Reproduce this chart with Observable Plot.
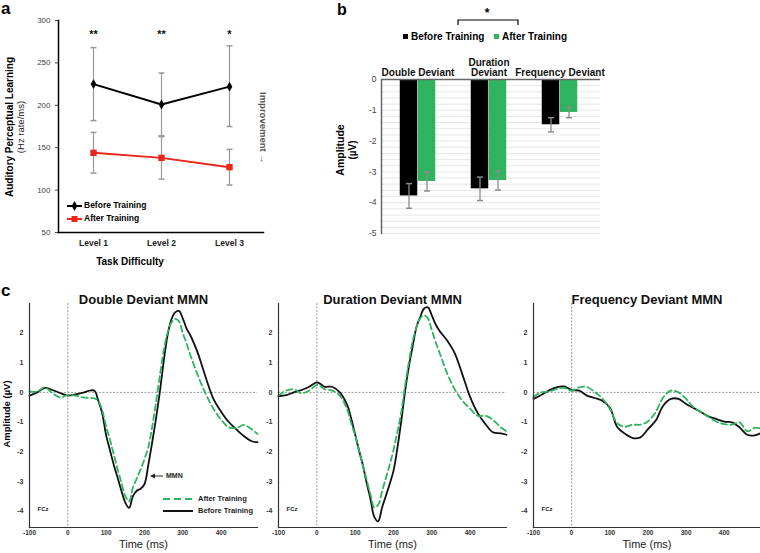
<!DOCTYPE html>
<html><head><meta charset="utf-8">
<script src="https://cdn.jsdelivr.net/npm/d3@7"></script>
<script src="https://cdn.jsdelivr.net/npm/@observablehq/plot@0.6"></script>
<style>
body{margin:0;background:#fff;}
#fig{position:relative;width:760px;height:553px;overflow:hidden;font-family:"Liberation Sans",Arial,sans-serif;}
#fig svg{position:absolute;}
</style></head><body><div id="fig"></div>
<script>
// ---------- Panel a data ----------
const levels = ["Level 1", "Level 2", "Level 3"];
const beforeMean = [225, 201, 222];
const beforeLow = [182, 164, 175];
const beforeHigh = [268, 238, 270];
const afterMean = [144, 138, 127];
const afterLow = [120, 113, 106];
const afterHigh = [168, 163, 148];
const sigStars = ["**", "**", "*"];
const learningTicks = [50, 100, 150, 200, 250, 300];

// ---------- Panel b data ----------
const deviants = ["Double Deviant", "Duration Deviant", "Frequency Deviant"];
const deviantLabels = ["Double Deviant", "Duration\nDeviant", "Frequency Deviant"];
const ampBefore = [-3.78, -3.55, -1.47];
const ampBeforeErr = [0.40, 0.38, 0.23];
const ampAfter = [-3.31, -3.28, -1.07];
const ampAfterErr = [0.31, 0.31, 0.17];
const ampTicks = [0, -1, -2, -3, -4, -5];

// ---------- Panel c data ----------
const erpTimeTicks = [-100, 0, 100, 200, 300, 400];
const erpAmpTicks = [-4, -3, -2, -1, 0, 1, 2];
const erpTimeDomain = [-100, 495];
const erpAmpDomain = [-4.56, 3.0];

const doubleTime = [-100,-80,-60,-40,-20,0,20,40,60,70,80,90,100,110,120,130,140,150,160,170,180,190,200,210,220,230,240,250,260,270,280,290,300,310,320,340,360,380,400,420,440,460,480,495];
const doubleBefore = [-0.11,0.0,0.15,0.08,-0.02,-0.11,-0.07,-0.01,0.07,0.05,-0.3,-0.72,-1.45,-1.95,-2.45,-2.88,-3.33,-3.72,-3.9,-3.5,-3.32,-3.25,-3.1,-2.45,-1.7,-0.9,0.0,1.02,1.9,2.45,2.7,2.75,2.5,2.15,1.92,1.3,0.5,-0.22,-0.65,-1.0,-1.25,-1.48,-1.65,-1.68];
const doubleAfter = [0.03,0.03,0.17,-0.03,-0.17,-0.09,-0.11,-0.17,-0.19,-0.2,-0.3,-0.62,-1.15,-1.6,-2.1,-2.6,-3.05,-3.5,-3.68,-3.2,-2.9,-2.6,-2.25,-1.85,-1.17,-0.35,0.55,1.4,2.0,2.35,2.48,2.4,2.0,1.65,1.25,0.55,-0.05,-0.55,-0.92,-1.18,-1.2,-1.1,-1.25,-1.4];

const durationTime = [-100,-80,-60,-40,-20,0,10,20,40,60,80,90,100,110,120,130,140,150,160,170,180,190,200,210,220,230,240,250,260,270,280,290,300,310,320,340,360,380,400,420,440,460,480,495];
const durationBefore = [-0.13,-0.09,0.0,0.08,0.19,0.34,0.28,0.19,0.19,0.0,-0.45,-0.9,-1.42,-1.95,-2.45,-3.05,-3.6,-4.2,-4.35,-3.9,-3.5,-3.1,-2.65,-1.9,-1.0,0.0,0.85,1.55,2.2,2.55,2.83,2.87,2.6,2.3,2.08,1.75,1.32,0.6,-0.15,-0.7,-1.07,-1.35,-1.38,-1.43];
const durationAfter = [-0.11,0.06,0.11,-0.03,0.06,0.25,0.2,0.11,0.06,-0.11,-0.6,-1.05,-1.45,-1.95,-2.45,-2.95,-3.45,-3.88,-3.8,-3.35,-2.9,-2.45,-1.95,-1.35,-0.7,0.2,1.0,1.72,2.2,2.5,2.6,2.5,2.1,1.7,1.35,0.65,0.1,-0.28,-0.55,-0.79,-0.79,-0.93,-1.18,-1.31];

const frequencyTime = [-100,-80,-60,-40,-20,0,20,40,60,80,100,120,140,160,180,200,220,240,260,280,300,320,340,360,380,400,420,440,460,480,495];
const frequencyBefore = [-0.22,-0.09,0.06,0.17,0.2,0.08,0.06,-0.11,-0.19,-0.28,-0.51,-1.18,-1.4,-1.54,-1.52,-1.24,-0.96,-0.45,-0.22,-0.22,-0.39,-0.53,-0.67,-0.82,-0.9,-0.99,-1.01,-1.18,-1.43,-1.45,-1.38];
const frequencyAfter = [-0.15,0.0,0.03,0.11,0.15,0.06,0.17,0.18,0.02,-0.2,-0.55,-1.05,-1.16,-1.09,-1.09,-0.98,-0.67,-0.17,0.06,0.0,-0.22,-0.51,-0.67,-0.84,-0.99,-1.07,-1.09,-1.01,-1.31,-1.2,-1.21];

// ---------- styles ----------
const FONT = "Liberation Sans, Arial, sans-serif";
const RED = "#e8261d";
const GREEN = "#2fb35f";
const baseStyle = {fontFamily: FONT, fontSize: "8px", background: "transparent", overflow: "visible", color: "#333"};
const fig = document.getElementById("fig");
function place(svg, left, top) { svg.style.left = left + "px"; svg.style.top = top + "px"; fig.appendChild(svg); }
const cap = (w) => ({draw(ctx) { ctx.moveTo(-w, 0); ctx.lineTo(w, 0); }});

// ---------- Panel a ----------
const aData = levels.map((l, i) => ({level: l, before: beforeMean[i], bLo: beforeLow[i], bHi: beforeHigh[i],
  after: afterMean[i], aLo: afterLow[i], aHi: afterHigh[i], star: sigStars[i]}));
const plotA = Plot.plot({
  width: 280, height: 270, marginLeft: 58, marginRight: 17, marginTop: 20, marginBottom: 38,
  style: baseStyle,
  x: {type: "point", domain: levels, padding: 0.49},
  y: {domain: [50, 300]},
  marks: [
    Plot.ruleX(aData, {x: "level", y1: "bLo", y2: "bHi", stroke: "#999", strokeWidth: 1.2}),
    Plot.dot(aData, {x: "level", y: "bLo", symbol: cap(3), stroke: "#999", fill: "none"}),
    Plot.dot(aData, {x: "level", y: "bHi", symbol: cap(3), stroke: "#999", fill: "none"}),
    Plot.ruleX(aData, {x: "level", y1: "aLo", y2: "aHi", stroke: "#999", strokeWidth: 1.2}),
    Plot.dot(aData, {x: "level", y: "aLo", symbol: cap(3), stroke: "#999", fill: "none"}),
    Plot.dot(aData, {x: "level", y: "aHi", symbol: cap(3), stroke: "#999", fill: "none"}),
    Plot.line(aData, {x: "level", y: "before", stroke: "#000", strokeWidth: 2}),
    Plot.dot(aData, {x: "level", y: "before", symbol: "diamond", fill: "#000", r: 3}),
    Plot.line(aData, {x: "level", y: "after", stroke: RED, strokeWidth: 2}),
    Plot.dot(aData, {x: "level", y: "after", symbol: "square", fill: RED, r: 3.6}),
    Plot.text(aData, {x: "level", text: "star", frameAnchor: "top", dy: 10, fontSize: 11, fontWeight: "bold", fill: "#111"}),
    Plot.axisY({ticks: learningTicks, tickSize: 3, tickPadding: 5, fontSize: 8, color: "#444", label: null}),
    Plot.axisX({tickSize: 0, tickPadding: 7, fontSize: 8.5, fontWeight: "bold", color: "#222", label: null}),
    Plot.frame({anchor: "left", stroke: "#000", strokeWidth: 1.5}),
    Plot.frame({anchor: "bottom", stroke: "#000", strokeWidth: 1.5})
  ]
});
place(plotA, 0, 0);

// ---------- Panel b ----------
const bBefore = deviants.map((d, i) => ({dev: d, amp: ampBefore[i], lo: ampBefore[i] - ampBeforeErr[i], hi: ampBefore[i] + ampBeforeErr[i]}));
const bAfter = deviants.map((d, i) => ({dev: d, amp: ampAfter[i], lo: ampAfter[i] - ampAfterErr[i], hi: ampAfter[i] + ampAfterErr[i]}));
const bLabels = deviants.map((d, i) => ({dev: d, label: deviantLabels[i]}));
const plotB = Plot.plot({
  width: 270, height: 245, marginLeft: 41, marginRight: 10, marginTop: 79, marginBottom: 12,
  style: baseStyle,
  x: {type: "band", domain: deviants, range: [41.25, 255.75], padding: 0, axis: null},
  y: {domain: [-5, 0], axis: null},
  marks: [
    Plot.gridY({interval: 0.2, stroke: "#e6e6e6", strokeOpacity: 1}),
    Plot.barY(bBefore, {x: "dev", y: "amp", fill: "#000", insetLeft: 17.75, insetRight: 35.75}),
    Plot.barY(bAfter, {x: "dev", y: "amp", fill: GREEN, insetLeft: 35.75, insetRight: 17.75}),
    Plot.ruleX(bBefore, {x: "dev", y1: "lo", y2: "hi", dx: -9, stroke: "#8a8a8a", strokeWidth: 1.3}),
    Plot.dot(bBefore, {x: "dev", y: "lo", dx: -9, symbol: cap(3), stroke: "#8a8a8a", fill: "none"}),
    Plot.dot(bBefore, {x: "dev", y: "hi", dx: -9, symbol: cap(3), stroke: "#8a8a8a", fill: "none"}),
    Plot.ruleX(bAfter, {x: "dev", y1: "lo", y2: "hi", dx: 9, stroke: "#8a8a8a", strokeWidth: 1.3}),
    Plot.dot(bAfter, {x: "dev", y: "lo", dx: 9, symbol: cap(3), stroke: "#8a8a8a", fill: "none"}),
    Plot.dot(bAfter, {x: "dev", y: "hi", dx: 9, symbol: cap(3), stroke: "#8a8a8a", fill: "none"}),
    Plot.ruleY([0], {stroke: "#666", strokeWidth: 1.5}),
    Plot.frame({anchor: "left", stroke: "#666", strokeWidth: 1.5}),
    Plot.axisY({ticks: ampTicks, tickSize: 0, tickPadding: 5, tickFormat: d => String(d), fontSize: 8.5, color: "#444", label: null}),
    Plot.text(bLabels, {x: "dev", text: "label", frameAnchor: "top", dy: -4, lineAnchor: "bottom", fontWeight: "bold", fontSize: 10, fill: "#111"})
  ]
});
place(plotB, 340, 0);

// ---------- Panel c ----------
function erpPanel(title, time, before, after, width, marginLeft, marginRight) {
  const b = time.map((t, i) => ({t, v: before[i]}));
  const a = time.map((t, i) => ({t, v: after[i]}));
  return Plot.plot({
    width, height: 273, marginLeft, marginRight, marginTop: 23, marginBottom: 26,
    style: baseStyle,
    x: {domain: erpTimeDomain, axis: null},
    y: {domain: erpAmpDomain, axis: null},
    marks: [
      Plot.ruleY([0], {stroke: "#9a9a9a", strokeDasharray: "2,1.5"}),
      Plot.ruleX([0], {stroke: "#9a9a9a", strokeDasharray: "2,1.5"}),
      Plot.line(b, {x: "t", y: "v", stroke: "#111", strokeWidth: 1.8, curve: "catmull-rom"}),
      Plot.line(a, {x: "t", y: "v", stroke: GREEN, strokeWidth: 1.8, strokeDasharray: "6,3.5", curve: "catmull-rom"}),
      Plot.axisY({ticks: erpAmpTicks, tickSize: 0, tickPadding: 6, tickFormat: d => String(d), fontSize: 7, fontWeight: "bold", color: "#333", label: null}),
      Plot.axisX({ticks: erpTimeTicks, tickSize: 0, tickPadding: 3, tickFormat: d => String(d), fontSize: 6.5, fontWeight: "bold", color: "#333", label: null}),
      Plot.frame({anchor: "left", stroke: "#333", strokeWidth: 1.2}),
      Plot.frame({anchor: "bottom", stroke: "#333", strokeWidth: 1.2}),
      Plot.text([title], {text: d => d, frameAnchor: "top", dy: -9, fontSize: 13, fontWeight: "bold", fill: "#111"}),
      Plot.text(["Time (ms)"], {text: d => d, frameAnchor: "bottom", dy: 20, fontSize: 11, fill: "#222"}),
      Plot.text(["FCz"], {text: d => d, frameAnchor: "bottom-left", textAnchor: "start", dx: 8, dy: -17, fontSize: 6, fontWeight: "bold", fill: "#222"})
    ]
  });
}
place(erpPanel("Double Deviant MMN", doubleTime, doubleBefore, doubleAfter, 258, 29, 1), 0, 280);
place(erpPanel("Duration Deviant MMN", durationTime, durationBefore, durationAfter, 258, 28, 2), 250, 280);
place(erpPanel("Frequency Deviant MMN", frequencyTime, frequencyBefore, frequencyAfter, 260, 33, 0), 500, 280);

// ---------- annotations overlay ----------
const ov = d3.select("#fig").append("svg").attr("width", 760).attr("height", 553)
  .style("left", "0px").style("top", "0px").attr("font-family", FONT);
function txt(x, y, s, o = {}) {
  const t = ov.append("text").attr("x", x).attr("y", y)
    .attr("text-anchor", o.anchor || "start")
    .attr("dominant-baseline", o.baseline || "middle")
    .attr("font-size", o.size || 9).attr("font-weight", o.weight || "normal")
    .attr("fill", o.fill || "#000").text(s);
  if (o.rotate) t.attr("transform", `rotate(${o.rotate},${x},${y})`);
  return t;
}
// panel letters
txt(1, 14, "a", {size: 17, weight: "bold", baseline: "alphabetic"});
txt(337, 15, "b", {size: 16, weight: "bold", baseline: "alphabetic"});
txt(1, 296, "c", {size: 17, weight: "bold", baseline: "alphabetic"});

// panel a labels
txt(10, 127, "Auditory Perceptual Learning", {size: 10, weight: "bold", anchor: "middle", rotate: -90});
txt(21, 127, "(Hz rate/ms)", {size: 9.5, anchor: "middle", rotate: -90, fill: "#222"});
txt(130, 262, "Task Difficulty", {size: 10, weight: "bold", anchor: "middle"});
txt(263, 92, "Improvement \u2192", {size: 9.5, weight: "bold", rotate: 90, fill: "#555"});
ov.append("line").attr("x1", 67).attr("x2", 82).attr("y1", 206).attr("y2", 206).attr("stroke", "#000").attr("stroke-width", 2);
ov.append("path").attr("d", d3.symbol(d3.symbolDiamond, 28)()).attr("transform", "translate(74.5,206)").attr("fill", "#000");
txt(84, 206, "Before Training", {size: 8.5, weight: "bold"});
ov.append("line").attr("x1", 67).attr("x2", 82).attr("y1", 219).attr("y2", 219).attr("stroke", RED).attr("stroke-width", 2);
ov.append("rect").attr("x", 71.5).attr("y", 216).attr("width", 6).attr("height", 6).attr("fill", RED);
txt(84, 219, "After Training", {size: 8.5, weight: "bold"});

// panel b labels
txt(341, 150, "Amplitude", {size: 10.5, weight: "bold", anchor: "middle", rotate: -90});
txt(353, 150, "(\u00b5V)", {size: 10, weight: "bold", anchor: "middle", rotate: -90});
ov.append("rect").attr("x", 403).attr("y", 34).attr("width", 5).attr("height", 5).attr("fill", "#000");
txt(411, 37, "Before Training", {size: 10, weight: "bold"});
ov.append("rect").attr("x", 494).attr("y", 34).attr("width", 5).attr("height", 5).attr("fill", GREEN);
txt(502, 37, "After Training", {size: 10, weight: "bold"});
ov.append("path").attr("d", "M458,25V20H518V25").attr("fill", "none").attr("stroke", "#000").attr("stroke-width", 1.2);
txt(487, 14, "*", {size: 12, weight: "bold", anchor: "middle"});

// panel c labels
txt(7, 414, "Amplitude (\u00b5V)", {size: 9.5, weight: "bold", anchor: "middle", rotate: -90});
ov.append("line").attr("x1", 153).attr("x2", 163).attr("y1", 476).attr("y2", 476).attr("stroke", "#222").attr("stroke-width", 1);
ov.append("path").attr("d", "M150,476L155,473.5L155,478.5Z").attr("fill", "#222");
txt(166, 476.5, "MMN", {size: 7, weight: "bold", fill: "#222"});
ov.append("line").attr("x1", 163).attr("x2", 193).attr("y1", 499).attr("y2", 499).attr("stroke", GREEN).attr("stroke-width", 2).attr("stroke-dasharray", "7,4");
txt(198, 499.5, "After Training", {size: 7.5, weight: "bold", fill: "#222"});
ov.append("line").attr("x1", 163).attr("x2", 193).attr("y1", 511).attr("y2", 511).attr("stroke", "#111").attr("stroke-width", 2);
txt(198, 511.5, "Before Training", {size: 7.5, weight: "bold", fill: "#222"});
</script>
</body></html>
